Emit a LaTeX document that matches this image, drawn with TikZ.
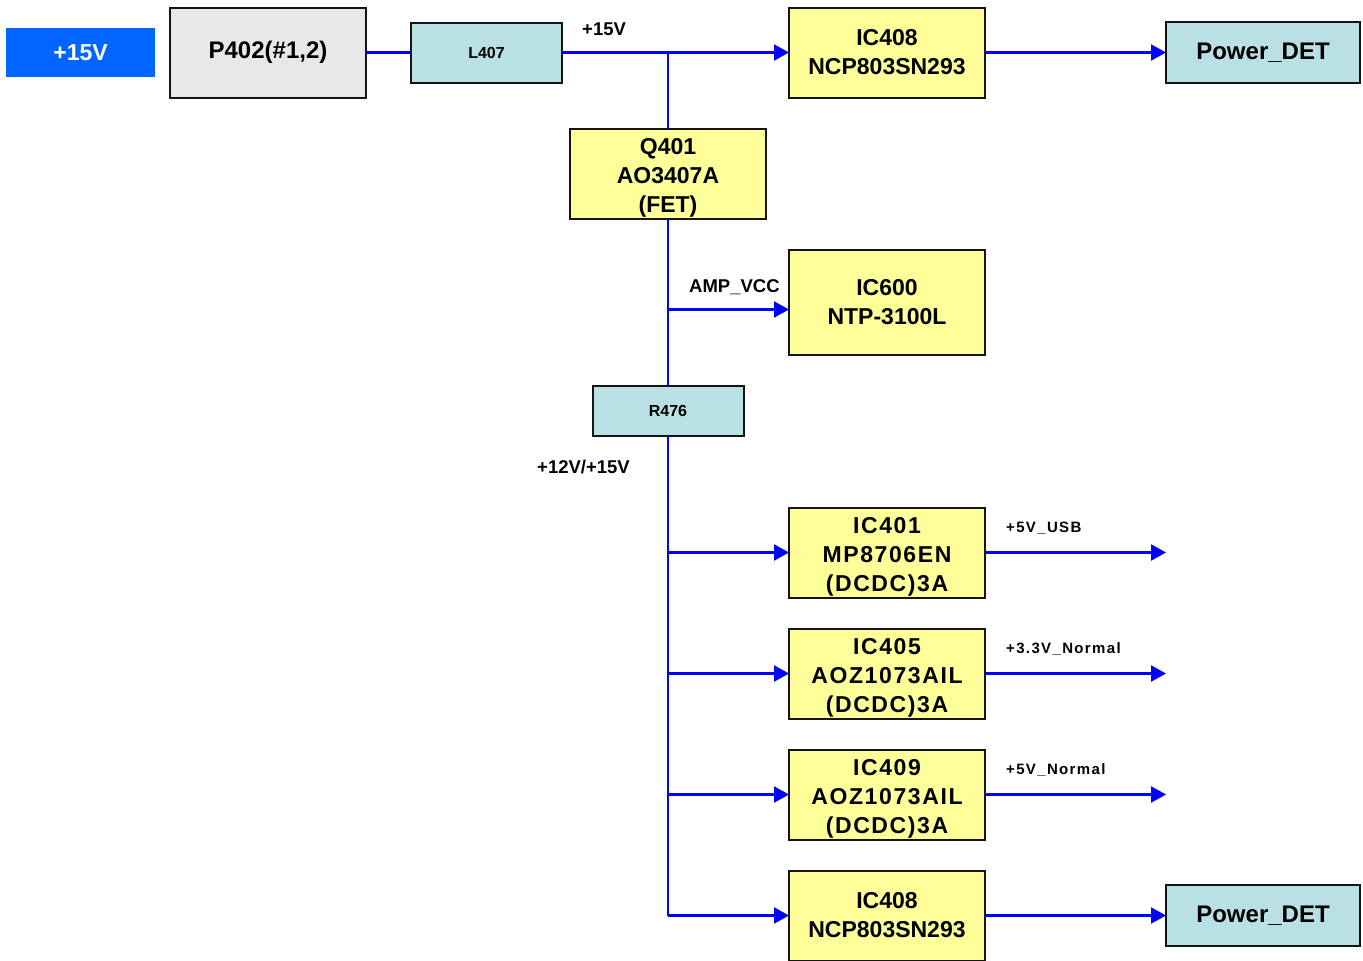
\documentclass[tikz,border=0pt]{standalone}
\usepackage{fontspec}
\setmainfont{Liberation Sans}
\newfontfamily\spaced[LetterSpace=7]{Liberation Sans}
\newfontfamily\spacedsmall[LetterSpace=9]{Liberation Sans}
\newcommand\topstrut{\rule{0pt}{24pt}}
\usetikzlibrary{positioning,arrows.meta}
\definecolor{srcblue}{HTML}{0066FF}
\definecolor{wire}{HTML}{0000FF}
\definecolor{chip}{HTML}{FFFF99}
\definecolor{part}{HTML}{B9E0E4}
\definecolor{conn}{HTML}{E8E8E8}
\definecolor{edge}{HTML}{141414}

\begin{document}
\begin{tikzpicture}[
  x=1pt, y=-1pt,
  box/.style={draw=edge, line width=2pt, align=center, inner sep=0pt, outer sep=0pt, font=\fontsize{23}{29}\selectfont\bfseries},
  ic/.style={box, fill=chip, minimum width=196pt, minimum height=90pt},
  dcdc/.style={ic, font=\fontsize{23}{29}\selectfont\spaced\bfseries},
  pas/.style={box, fill=part, minimum width=151pt, font=\fontsize{16}{18}\selectfont\bfseries},
  det/.style={box, fill=part, minimum width=194pt, minimum height=61pt, font=\fontsize{24}{28}\selectfont\bfseries},
  wir/.style={draw=wire, line width=2.2pt},
  arr/.style={wir, -{Triangle[length=15pt, width=16pt]}},
  lab/.style={inner sep=0pt, anchor=base west, font=\fontsize{18.5}{20}\selectfont\bfseries},
  outlab/.style={inner sep=0pt, anchor=base west, font=\fontsize{15}{17}\selectfont\spacedsmall\bfseries}]
  \useasboundingbox (0,0) rectangle (1363,961);
  \node[box, draw=none, fill=srcblue, text=white, minimum width=149pt, minimum height=49pt] (src) at (80.5,52.5) {+15V};
  \node[box, fill=conn, right=15pt of src, minimum width=196pt, minimum height=90pt, font=\fontsize{24}{28}\selectfont\bfseries] (p402) {P402(\#1,2)};
  \node[pas, right=45pt of p402, minimum height=60pt] (l407) {L407};
  \node[ic, right=227pt of l407] (ic408a) {IC408\\NCP803SN293};
  \node[det, right=181pt of ic408a] (deta) {Power\_DET};
  \node[ic, below=46pt of l407, xshift=181.5pt] (q401) {\topstrut Q401\\AO3407A\\(FET)};
  \node[ic, below=152pt of ic408a, minimum height=105pt] (ic600) {IC600\\NTP-3100L};
  \node[pas, below=167pt of q401, minimum height=50pt] (r476) {R476};
  \node[dcdc, below=153pt of ic600] (ic401) {\topstrut IC401\\MP8706EN\\(DCDC)3A};
  \node[dcdc, below=31pt of ic401] (ic405) {\topstrut IC405\\AOZ1073AIL\\(DCDC)3A};
  \node[dcdc, below=31pt of ic405] (ic409) {\topstrut IC409\\AOZ1073AIL\\(DCDC)3A};
  \node[ic, below=31pt of ic409] (ic408b) {IC408\\NCP803SN293};
  \node[det, right=181pt of ic408b] (detb) {Power\_DET};

  \coordinate (jn) at (q401.north |- l407.east);
  \coordinate (amp) at ([yshift=-7.5pt]q401.south |- ic600.west);
  \coordinate (usb) at ([xshift=181pt]ic401.east);
  \coordinate (v33) at ([xshift=181pt]ic405.east);
  \coordinate (v5) at ([xshift=181pt]ic409.east);

  \node[lab] (l15) at ([xshift=20pt, yshift=17pt]l407.east) {+15V};
  \node[lab] (lamp) at ([xshift=21pt, yshift=17pt]amp) {AMP\_VCC};
  \node[lab, anchor=base east] (l12) at ([xshift=-38pt, yshift=-38pt]r476.south) {+12V/+15V};
  \node[outlab] (lusb) at ([xshift=21pt, yshift=20pt]ic401.east) {+5V\_USB};
  \node[outlab] (l33) at ([xshift=21pt, yshift=20pt]ic405.east) {+3.3V\_Normal};
  \node[outlab] (l5) at ([xshift=21pt, yshift=20pt]ic409.east) {+5V\_Normal};

  \draw[wir] (p402) -- (l407);
  \draw[arr] (l407) -- (ic408a);
  \draw[arr] (ic408a) -- (deta);
  \draw[wir] (jn) -- (q401);
  \draw[wir] (q401) -- (r476);
  \draw[arr] (amp) -- (amp -| ic600.west);
  \draw[wir] (r476.south) -- (r476.south |- ic408b.west);
  \foreach \n in {ic401,ic405,ic409,ic408b}
    \draw[arr] (r476.south |- \n.west) -- (\n.west);
  \draw[arr] (ic401) -- (usb);
  \draw[arr] (ic405) -- (v33);
  \draw[arr] (ic409) -- (v5);
  \draw[arr] (ic408b) -- (detb);
\end{tikzpicture}
\end{document}
